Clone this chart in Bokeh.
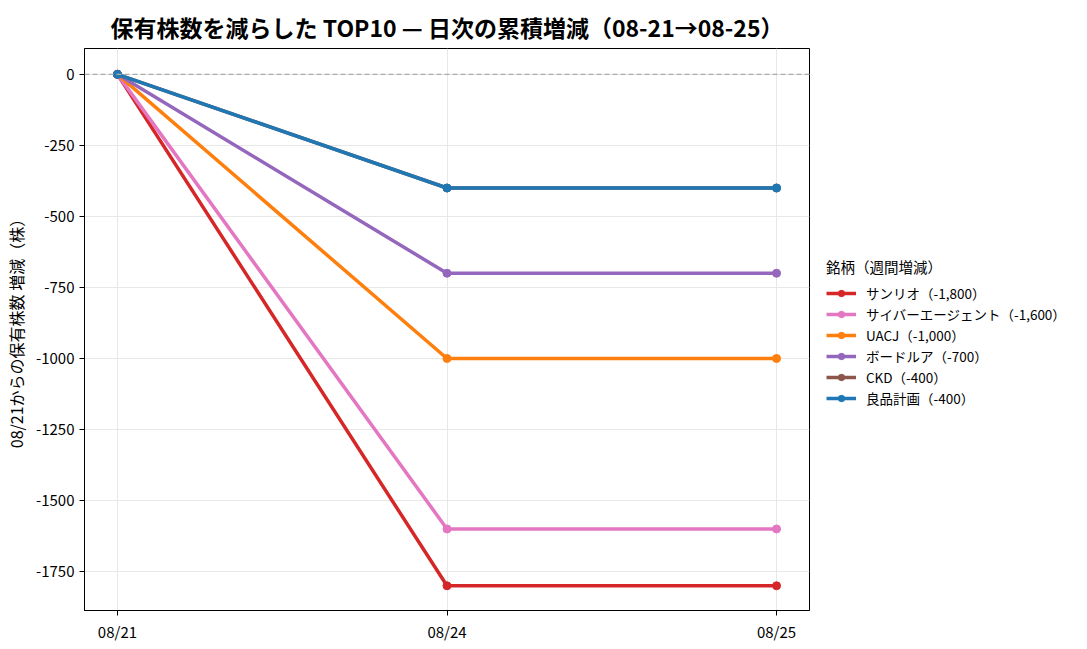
from bokeh.plotting import figure
from bokeh.layouts import row
from bokeh.models import (Span, Legend, LegendItem, FixedTicker, Range1d,
                          NumeralTickFormatter)
from bokeh.embed import file_html
from bokeh.resources import INLINE

FONT = "Noto Sans CJK JP"

dates = ["08/21", "08/24", "08/25"]
names = ["サンリオ", "サイバーエージェント", "UACJ", "ボードルア", "CKD", "良品計画"]
weekly = ["-1,800", "-1,600", "-1,000", "-700", "-400", "-400"]
sanrio = [0, -1800, -1800]
cyberagent = [0, -1600, -1600]
uacj = [0, -1000, -1000]
boardrua = [0, -700, -700]
ckd = [0, -400, -400]
ryohin = [0, -400, -400]
colors = ["#d62728", "#e377c2", "#ff7f0e", "#9467bd", "#8c564b", "#1f77b4"]
y_ticks = [0, -250, -500, -750, -1000, -1250, -1500, -1750]

series = [sanrio, cyberagent, uacj, boardrua, ckd, ryohin]
xs = list(range(len(dates)))

p = figure(
    frame_width=725, frame_height=562,
    x_range=Range1d(-0.1, 2.1), y_range=Range1d(-1887, 91),
    output_backend="svg", toolbar_location=None,
    min_border_left=80, min_border_top=48, min_border_bottom=24,
    min_border_right=5,
    title="保有株数を減らした TOP10 — 日次の累積増減（08-21→08-25）",
)
p.title.text_font = FONT
p.title.text_font_size = "23px"
p.title.text_font_style = "bold"
p.title.text_color = "black"
p.title.align = "center"
p.title.standoff = 10

p.add_layout(Span(location=0, dimension="width", line_color="#aaaaaa",
                  line_dash="5 3", line_width=1.3))

for ys, c in zip(series, colors):
    p.line(xs, ys, line_width=3.5, color=c)
    p.scatter(xs, ys, size=8, color=c)

p.xaxis.ticker = FixedTicker(ticks=xs)
p.xaxis.major_label_overrides = {i: d for i, d in enumerate(dates)}
p.yaxis.ticker = FixedTicker(ticks=y_ticks)
p.yaxis.formatter = NumeralTickFormatter(format="0")
p.yaxis.axis_label = "08/21からの保有株数 増減（株）"
p.yaxis.axis_label_text_font = FONT
p.yaxis.axis_label_text_font_size = "16px"
p.yaxis.axis_label_text_font_style = "normal"
p.yaxis.axis_label_text_color = "black"
for ax in (p.xaxis, p.yaxis):
    ax.major_label_text_font = FONT
    ax.major_label_text_font_size = "15px"
    ax.major_label_text_color = "black"
    ax.axis_line_color = "black"
    ax.major_tick_line_color = "black"
    ax.major_tick_out = 5
    ax.major_tick_in = 0
    ax.minor_tick_line_color = None
p.outline_line_color = "black"
p.outline_line_width = 1
p.grid.grid_line_color = "#e8e8e8"
p.grid.grid_line_width = 1

# legend lives in its own narrow figure next to the chart
lf = figure(width=262, height=634, output_backend="svg", toolbar_location=None,
            min_border=0, x_axis_type=None, y_axis_type=None,
            x_range=Range1d(0, 1), y_range=Range1d(0, 1))
lf.outline_line_color = None
lf.grid.visible = False

items = []
for name, w, ys, c in zip(names, weekly, series, colors):
    r1 = lf.line(xs, ys, line_width=3.5, color=c, visible=False)
    r2 = lf.scatter(xs, ys, size=8, color=c, visible=False)
    items.append(LegendItem(label=f"{name}（{w}）", renderers=[r1, r2]))

legend = Legend(items=items, title="銘柄（週間増減）", location=(9, 189))
legend.border_line_alpha = 0
legend.background_fill_alpha = 0
legend.inactive_fill_alpha = 0
legend.label_text_font = FONT
legend.label_text_font_size = "13.5px"
legend.label_text_color = "black"
legend.label_standoff = 10
legend.title_text_font = FONT
legend.title_text_font_size = "14.5px"
legend.title_text_font_style = "normal"
legend.title_text_color = "black"
legend.title_standoff = 6
legend.glyph_width = 30
legend.spacing = 1
legend.label_height = 16
legend.glyph_height = 16
legend.padding = 3
legend.margin = 0
lf.add_layout(legend)

open("out.html", "w").write(file_html(row(p, lf), INLINE))
